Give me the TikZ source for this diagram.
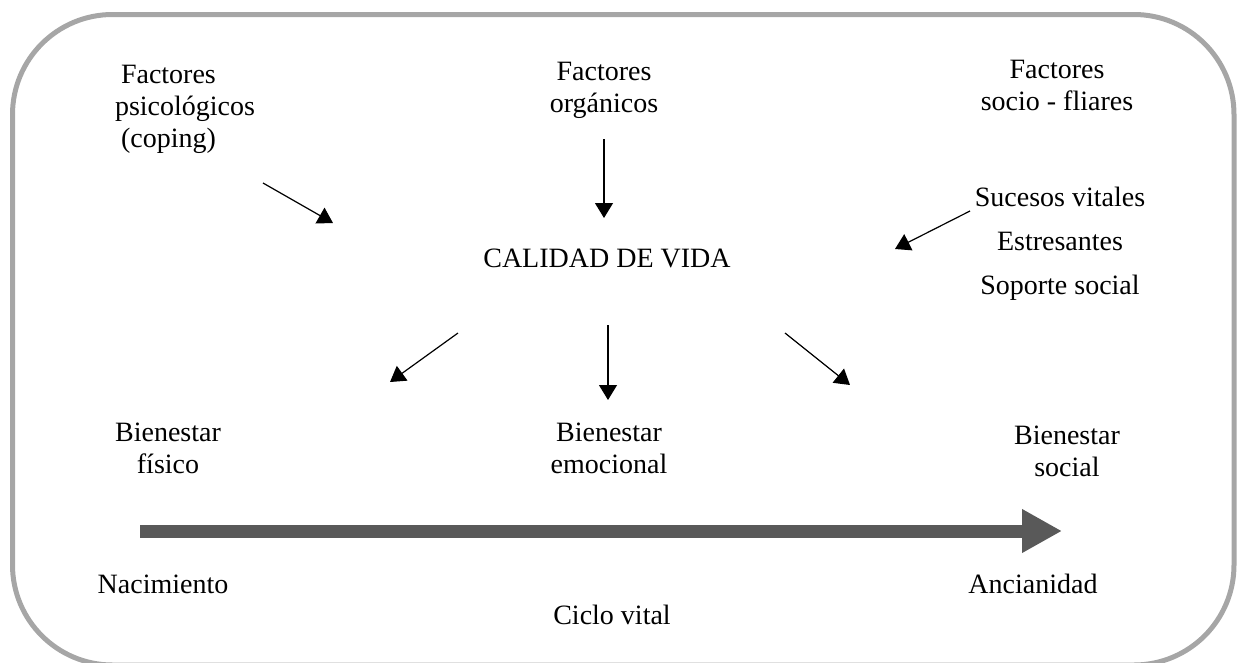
\documentclass[tikz,border=0pt]{standalone}
\usepackage{fontspec}
\setmainfont{Liberation Serif}
\usetikzlibrary{arrows.meta}
\definecolor{framegray}{HTML}{A6A6A6}
\definecolor{bargray}{HTML}{595959}
\begin{document}
\begin{tikzpicture}[x=1pt,y=-1pt,
  lbl/.style={inner sep=0pt, align=center, font=\fontsize{28}{32}\selectfont},
  thinarrow/.style={line width=1.2pt, -{Triangle[length=15pt,width=18pt]}},
  lifearrow/.style={line width=13pt, color=bargray, -{Triangle[length=40pt,width=41pt]}}]
\useasboundingbox (0,0) rectangle (1243,662);
% frame
\draw[framegray, line width=5pt, rounded corners=100pt] (12.5,14.5) rectangle (1234,665);
% texts
\node[lbl, align=left] (psico) at (185,109) {\hspace{6pt}Factores\\psicológicos\\\hspace{6pt}(coping)};
\node[lbl] (org) at (604,90) {Factores\\orgánicos};
\node[lbl] (socio) at (1057,85) {Factores\\socio - fliares};
\node[lbl] (cv) at (607,258) {CALIDAD DE VIDA};
\node[lbl, font=\fontsize{28}{44}\selectfont] (suc) at (1060,244) {Sucesos vitales\\Estresantes\\Soporte social};
\node[lbl] (bf) at (168,448) {Bienestar\\físico};
\node[lbl] (be) at (609,448) {Bienestar\\emocional};
\node[lbl] (bs) at (1067,451) {Bienestar\\social};
\node[lbl] (nac) at (163,584) {Nacimiento};
\node[lbl] (anc) at (1033,584) {Ancianidad};
\node[lbl] (ciclo) at (612,615) {Ciclo vital};
% arrow endpoints
\coordinate (a1s) at (263,183); \coordinate (a1e) at (333,223);
\coordinate (a2s) at (604,139); \coordinate (a2e) at (604,218);
\coordinate (a3s) at (970,211); \coordinate (a3e) at (895,249);
\coordinate (a4s) at (458,333); \coordinate (a4e) at (390,382);
\coordinate (a5s) at (608,325); \coordinate (a5e) at (608,400);
\coordinate (a6s) at (785,333); \coordinate (a6e) at (850,385);
\coordinate (ls) at (140,531); \coordinate (le) at (1062,531);
\draw[thinarrow] (a1s) -- (a1e);
\draw[thinarrow] (a2s) -- (a2e);
\draw[thinarrow] (a3s) -- (a3e);
\draw[thinarrow] (a4s) -- (a4e);
\draw[thinarrow] (a5s) -- (a5e);
\draw[thinarrow] (a6s) -- (a6e);
\draw[lifearrow] (ls) -- (le);
\end{tikzpicture}
\end{document}
